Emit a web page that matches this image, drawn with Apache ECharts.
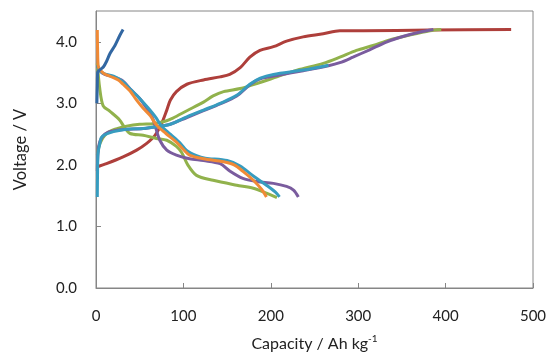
<!DOCTYPE html>
<html><head><meta charset="utf-8">
<script src="https://cdn.jsdelivr.net/npm/echarts@6/dist/echarts.min.js"></script>
<style>html,body{margin:0;padding:0;background:#fff}#c{width:550px;height:356px}</style>
</head><body><div id="c"></div>
<script>
// [capacity (Ah/kg), voltage (V)]
const blueCharge = [[1,3.0],[1.5,3.3],[2,3.51],[5,3.55],[8.4,3.59],[12,3.68],[16,3.81],[21.7,3.94],[27.5,4.11],[31,4.2]];
const redCharge = [[1.5,1.97],[12,2.02],[31,2.13],[46.5,2.24],[58,2.35],[67.5,2.48],[75,2.67],[81,2.89],[85,3.05],[92,3.19],[104,3.31],[123,3.38],[142,3.43],[153,3.47],[165,3.58],[176,3.75],[187.6,3.86],[203,3.92],[218,4.01],[237,4.08],[260,4.13],[279,4.18],[306,4.18],[382,4.19],[475,4.2]];
const greenDischarge = [[1.5,3.65],[4.3,3.24],[8.2,2.96],[16,2.87],[27,2.73],[33,2.6],[39,2.51],[54,2.48],[69,2.43],[81,2.40],[92,2.3],[98,2.2],[105,2.0],[115,1.83],[134,1.75],[161,1.67],[180,1.62],[195,1.54],[207,1.47]];
const greenCharge = [[1.5,2.16],[4.6,2.35],[12,2.51],[24,2.59],[35,2.63],[50,2.66],[65.5,2.67],[77,2.70],[88,2.76],[104,2.88],[123,3.02],[134,3.12],[146,3.19],[165,3.24],[184,3.32],[207,3.43],[230,3.54],[260,3.65],[279,3.75],[298,3.86],[317,3.94],[336,4.03],[359,4.11],[382,4.18],[395,4.2]];
const purpleDischarge = [[1.5,3.62],[5,3.52],[10,3.47],[20,3.43],[30,3.37],[40,3.22],[50,3.08],[58,2.92],[65,2.75],[68,2.62],[73,2.40],[81,2.24],[92,2.16],[107,2.10],[123,2.07],[142,2.02],[153,1.9],[168,1.78],[184,1.73],[203,1.70],[218,1.65],[226,1.59],[231.5,1.48]];
const purpleCharge = [[1.5,1.9],[3,2.3],[7,2.45],[14,2.53],[29,2.57],[54,2.59],[69,2.62],[85,2.66],[104,2.77],[123,2.88],[142,2.99],[161,3.12],[176,3.3],[188,3.40],[210,3.46],[237,3.53],[266,3.61],[279,3.66],[294,3.75],[313,3.87],[333,4.0],[352,4.09],[371,4.16],[386,4.2]];
const aquaCharge = [[1.5,1.48],[1.8,1.9],[2.3,2.19],[4.6,2.36],[6,2.44],[10,2.49],[20,2.54],[35,2.58],[54,2.59],[69,2.62],[85,2.66],[104,2.78],[123,2.89],[142,3.0],[161,3.13],[176,3.31],[188,3.41],[203,3.47],[237,3.54],[266,3.62]];
const aquaDischarge = [[1.5,3.62],[5,3.52],[10,3.48],[20,3.44],[30,3.36],[40,3.22],[50,3.08],[60,2.92],[68,2.78],[75,2.63],[85,2.5],[96,2.36],[104,2.23],[115,2.15],[125,2.11],[150,2.07],[165,1.98],[180,1.82],[195,1.67],[205,1.56],[210,1.48]];
const orangeDischarge = [[1.5,4.19],[1.8,3.9],[2.6,3.6],[8.4,3.49],[16,3.44],[25.5,3.38],[31,3.31],[39,3.2],[46,3.06],[54,2.92],[62,2.80],[69,2.65],[80,2.51],[92,2.37],[100,2.25],[107,2.16],[123,2.1],[146,2.05],[158,2.0],[168.5,1.89],[180,1.75],[189.6,1.6],[195,1.48]];

const xTicks = [0,100,200,300,400,500];
const yTicks = ['0.0','1.0','2.0','3.0','4.0'];

const C = {blue:'#3267A2', red:'#AE3F3B', green:'#91B24C', purple:'#7A5C9E', aqua:'#379CBF', orange:'#F08A36'};
const FONT = 'Lato';

function s(name, data, color){
  return {name, type:'line', data, smooth:0.3, symbol:'none', lineStyle:{width:3, color}, itemStyle:{color}};
}

const chart = echarts.init(document.getElementById('c'), null, {renderer:'canvas'});
chart.setOption({
  animation:false,
  backgroundColor:'#fff',
  grid:{left:96, right:17, top:11, bottom:68, containLabel:false, outerBoundsMode:'none', show:true, borderColor:'#868686', borderWidth:1, backgroundColor:'transparent'},
  xAxis:{type:'value', min:xTicks[0], max:xTicks[xTicks.length-1], interval:100,
    name:'Capacity / Ah kg{sup|-1}', nameLocation:'middle', nameGap:46,
    nameTextStyle:{fontFamily:FONT, fontSize:16, color:'#222', rich:{sup:{fontFamily:FONT, fontSize:10, color:'#222', verticalAlign:'top', padding:[0,0,9,0]}}},
    axisLine:{show:true, lineStyle:{color:'#868686', width:1}},
    axisTick:{show:true, inside:true, length:5, lineStyle:{color:'#868686'}},
    axisLabel:{margin:21, fontFamily:FONT, fontSize:15, color:'#222'},
    splitLine:{show:false}},
  yAxis:{type:'value', min:0, max:4.5, interval:1,
    name:'Voltage / V', nameLocation:'middle', nameGap:67, nameRotate:90,
    nameTextStyle:{fontFamily:FONT, fontSize:16.5, color:'#222'},
    axisLine:{show:true, lineStyle:{color:'#868686', width:1}},
    axisTick:{show:true, inside:true, length:5, lineStyle:{color:'#868686'}},
    axisLabel:{margin:19, fontFamily:FONT, fontSize:15, color:'#222', showMaxLabel:false,
      formatter:(v)=>{const i=Math.round(v); return yTicks[i]!==undefined && Math.abs(v-i)<1e-9 ? yTicks[i] : '';}},
    splitLine:{show:false}},
  series:[
    s('red charge', redCharge, C.red),
    s('green charge', greenCharge, C.green),
    s('green discharge', greenDischarge, C.green),
    s('purple charge', purpleCharge, C.purple),
    s('purple discharge', purpleDischarge, C.purple),
    s('aqua discharge', aquaDischarge, C.aqua),
    s('aqua charge', aquaCharge, C.aqua),
    s('orange discharge', orangeDischarge, C.orange),
    s('blue charge', blueCharge, C.blue)
  ]
});
</script></body></html>
